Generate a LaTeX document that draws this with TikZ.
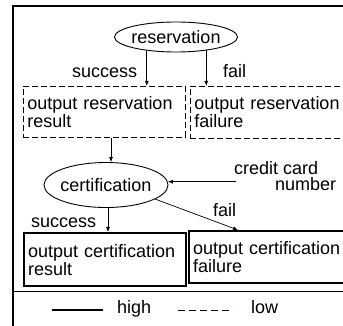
\documentclass[tikz,border=0pt]{standalone}
\usepackage{fontspec}
\setmainfont{Liberation Sans}
\usetikzlibrary{shapes.geometric,arrows.meta}
\begin{document}
\begin{tikzpicture}[x=1pt,y=-1pt,
  every node/.style={font=\fontsize{18}{18}\selectfont},
  txt/.style={inner sep=0pt},
  oval/.style={draw, ellipse, line width=0.9pt, inner sep=0pt},
  lowbox/.style={draw, line width=0.9pt, dash pattern=on 6pt off 3pt, anchor=north west, align=left, inner xsep=4pt, inner ysep=0pt},
  highbox/.style={draw, line width=2.2pt, anchor=north west, align=left, inner xsep=4pt, inner ysep=0pt},
  arr/.style={-{Latex[length=5pt,width=4pt]}, line width=0.7pt}
]
\clip (0,0) rectangle (343,326);
\draw[line width=1.2pt] (13,6) rectangle (400,400);
\coordinate (sepL) at (13,291);
\coordinate (sepR) at (400,291);
\draw[line width=1pt] (sepL) -- (sepR);

\node[oval, minimum width=123pt, minimum height=30pt] (res) at (176,37) {\makebox[0pt]{reservation}};
\node[oval, minimum width=124pt, minimum height=45pt] (cert) at (106,185) {\makebox[0pt]{certification}};

\node[lowbox, text width=154pt, minimum height=51pt] (rres) at (23,86) {output reservation\\result};
\node[lowbox, text width=158pt, minimum height=52pt] (fres) at (190,86) {output reservation\\failure};
\node[highbox, text width=154pt, minimum height=53pt] (rcert) at (23,232) {output certification\\result};
\node[highbox, text width=158pt, minimum height=52pt] (fcert) at (188,230) {output certification\\failure};

\node[txt, anchor=base west] (suc1) at (72,78) {success};
\node[txt, anchor=base west] (fail1) at (223,78) {fail};
\node[txt, anchor=base west] (suc2) at (31,227) {success};
\node[txt, anchor=base west] (fail2) at (213,217) {fail};
\node[txt, anchor=base west] (cc1) at (234,175) {credit card};
\node[txt, anchor=base west] (cc2) at (275,191) {number};

\draw[arr] (res.205) -- (res.205 |- rres.north);
\draw[arr] (res.336) -- (res.336 |- fres.north);
\coordinate (c1) at ([xshift=5pt]cert.north);
\draw[arr] (c1 |- rres.south) -- (c1);
\coordinate (c2) at ([xshift=2pt]cert.south);
\draw[arr] (c2) -- (c2 |- rcert.north);
\coordinate (c3) at ([xshift=50pt]fcert.north west);
\draw[arr] (cert.344) -- (c3);
\coordinate (ccs) at (236,182);
\draw[arr] (cert.3 -| ccs) -- (cert.3);

\coordinate (h1) at (52,310);
\coordinate (h2) at (103,310);
\draw[line width=1.5pt] (h1) -- (h2);
\node[txt, anchor=base west] (high) at (117,313) {high};
\coordinate (l1) at (178,310);
\coordinate (l2) at (233,310);
\draw[line width=1pt, dash pattern=on 7pt off 4pt] (l1) -- (l2);
\node[txt, anchor=base west] (low) at (251,313) {low};
\end{tikzpicture}
\end{document}
